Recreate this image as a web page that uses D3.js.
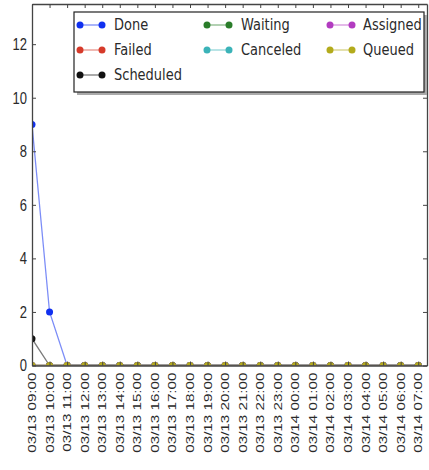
<!DOCTYPE html>
<html>
<head>
<meta charset="utf-8">
<script src="https://cdn.jsdelivr.net/npm/d3@7"></script>
<style>
html,body{margin:0;padding:0;background:#fff;}
svg{display:block;font-family:"DejaVu Sans",sans-serif;}
</style>
</head>
<body>
<svg id="chart" width="429" height="470"></svg>
<script>
const categories = ["03/13 09:00","03/13 10:00","03/13 11:00","03/13 12:00","03/13 13:00","03/13 14:00","03/13 15:00","03/13 16:00","03/13 17:00","03/13 18:00","03/13 19:00","03/13 20:00","03/13 21:00","03/13 22:00","03/13 23:00","03/14 00:00","03/14 01:00","03/14 02:00","03/14 03:00","03/14 04:00","03/14 05:00","03/14 06:00","03/14 07:00"];
const seriesNames = ["Done","Failed","Scheduled","Waiting","Canceled","Assigned","Queued"];
const done      = [9,2,0,0,0,0,0,0,0,0,0,0,0,0,0,0,0,0,0,0,0,0,0];
const failed    = [0,0,0,0,0,0,0,0,0,0,0,0,0,0,0,0,0,0,0,0,0,0,0];
const scheduled = [1,0,0,0,0,0,0,0,0,0,0,0,0,0,0,0,0,0,0,0,0,0,0];
const waiting   = [0,0,0,0,0,0,0,0,0,0,0,0,0,0,0,0,0,0,0,0,0,0,0];
const canceled  = [0,0,0,0,0,0,0,0,0,0,0,0,0,0,0,0,0,0,0,0,0,0,0];
const assigned  = [0,0,0,0,0,0,0,0,0,0,0,0,0,0,0,0,0,0,0,0,0,0,0];
const queued    = [0,0,0,0,0,0,0,0,0,0,0,0,0,0,0,0,0,0,0,0,0,0,0];
const yTicks = [0,2,4,6,8,10,12];

const seriesValues = [done, failed, scheduled, waiting, canceled, assigned, queued];
const colors = ["#1030f0","#d63a2a","#111111","#2a7d2a","#3bb3b8","#b23cc0","#b3ab1c"];

const svg = d3.select("#chart");
const mLeft = 32, mRight = 427, mTop = 4, mBottom = 365.5;
const x = d3.scaleLinear().domain([0, 22.5]).range([mLeft, mRight]);
const y = d3.scaleLinear().domain([0, 13.5]).range([mBottom, mTop]);

svg.append("defs").append("clipPath").attr("id","clip")
  .append("rect").attr("x",mLeft).attr("y",mTop).attr("width",mRight-mLeft).attr("height",mBottom-mTop);

const plot = svg.append("g").attr("clip-path","url(#clip)");
const line = d3.line().x((d,i)=>x(i)).y(d=>y(d));

seriesValues.forEach((vals, k) => {
  plot.append("path").datum(vals)
    .attr("d", line).attr("fill","none")
    .attr("stroke", colors[k]).attr("stroke-opacity", 0.55).attr("stroke-width", 1.3);
  plot.selectAll(null).data(vals).enter().append("circle")
    .attr("cx",(d,i)=>x(i)).attr("cy",d=>y(d)).attr("r",3.5)
    .attr("fill", colors[k]);
});

const idx = categories.map((c,i)=>i);
const axisColor = "#444";
// bottom axis
const gx = svg.append("g").attr("transform",`translate(0,${mBottom})`)
  .call(d3.axisBottom(x).tickValues(idx).tickSizeInner(-4).tickSizeOuter(0).tickPadding(0)
    .tickFormat(i=>categories[i]));
gx.selectAll("text")
  .attr("y",0).attr("dy",null)
  .attr("font-size",10).attr("fill","#2a2a2a")
  .attr("text-anchor","end").attr("dominant-baseline","central")
  .attr("transform","translate(0,7) scale(1,1.52) rotate(-90)");
// top axis
svg.append("g").attr("transform",`translate(0,${mTop})`)
  .call(d3.axisTop(x).tickValues(idx).tickSizeInner(-4).tickSizeOuter(0).tickFormat(""));
// left axis
const gy = svg.append("g").attr("transform",`translate(${mLeft},0)`)
  .call(d3.axisLeft(y).tickValues(yTicks).tickSizeInner(-4).tickSizeOuter(0).tickPadding(5));
gy.selectAll("text").attr("font-size",13).attr("fill","#2a2a2a").attr("dy",null)
  .attr("dominant-baseline","central").attr("transform","scale(1,1.2)");
// right axis
svg.append("g").attr("transform",`translate(${mRight},0)`)
  .call(d3.axisRight(y).tickValues(yTicks).tickSizeInner(-4).tickSizeOuter(0).tickFormat(""));
svg.selectAll(".domain").attr("stroke",axisColor).attr("stroke-width",1.3);
svg.selectAll(".tick line").attr("stroke",axisColor);

// legend
const lg = svg.append("g");
lg.append("rect").attr("x",77).attr("y",15).attr("width",350).attr("height",80).attr("fill","#aaa");
lg.append("rect").attr("x",74).attr("y",12).attr("width",350).attr("height",80)
  .attr("fill","#fff").attr("stroke","#222").attr("stroke-width",1.2);
const colX = [80, 207, 330];
const textX = [114, 241, 363];
const rowY = [25, 50, 75];
const layout = [[0,0],[0,1],[0,2],[1,0],[1,1],[2,0],[2,1]];
seriesNames.forEach((name,k)=>{
  const [c,r] = layout[k];
  const g = lg.append("g").attr("transform",`translate(${colX[c]},${rowY[r]})`);
  g.append("line").attr("x1",0).attr("x2",22).attr("y1",0).attr("y2",0)
    .attr("stroke",colors[k]).attr("stroke-opacity",0.55).attr("stroke-width",1.3);
  g.append("circle").attr("cx",0).attr("cy",0).attr("r",3.5).attr("fill",colors[k]);
  g.append("circle").attr("cx",22).attr("cy",0).attr("r",3.5).attr("fill",colors[k]);
  lg.append("text").attr("transform",`translate(${textX[c]},${rowY[r]}) scale(1,1.2)`)
    .attr("font-size",13).attr("fill","#2a2a2a").attr("dominant-baseline","central")
    .text(name);
});
</script>
</body>
</html>
